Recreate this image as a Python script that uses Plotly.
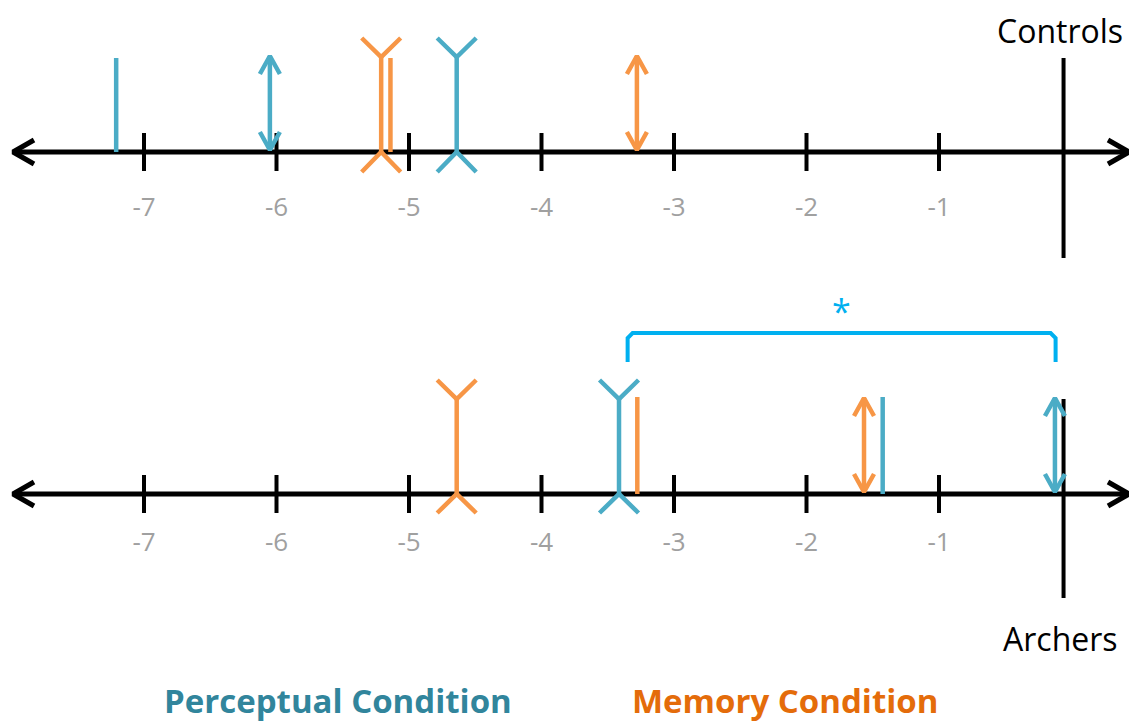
import plotly.graph_objects as go

# ---------------- data ----------------
tick_values = [-7, -6, -5, -4, -3, -2, -1]
tick_labels = ["-7", "-6", "-5", "-4", "-3", "-2", "-1"]
groups = ["Controls", "Archers"]
reference_value = [-0.06, -0.06]          # each group's zero line
perceptual_line = [-7.21, -1.425]
perceptual_arrow = [-6.05, -0.125]
perceptual_fins = [-4.64, -3.415]
memory_line = [-5.14, -3.277]
memory_arrow = [-3.28, -1.566]
memory_fins = [-5.21, -4.64]
bracket_span = [-3.35, -0.12]             # archers: significant difference
significance_label = "*"
condition_labels = ["Perceptual Condition", "Memory Condition"]

# ---------------- layout / style ----------------
W, H = 1137, 722
PAGE_MARGIN = 8       # default body margin of the html page
UNIT = 132.5          # px per unit on the number line
ORIGIN = 1071.5       # px position of value 0
def px(p):            # pixel x -> data x
    return (p - ORIGIN) / UNIT
D = 1.0 / UNIT        # one pixel in data units

TEAL = "#4BACC6"
ORANGE = "#F79646"
BRACKET = "#00B0F0"
PERC_TXT = "#31859C"
MEM_TXT = "#E46C0A"
TICK_TXT = "#A0A0A0"
FONT = "Open Sans"

rows = [
    dict(axis=152, line_top=58, arrow_top=56, arrow_bot=150, fin_joint=57, fin_top=38,
         fin_bot=172, tick_half=19, label_y=209, ref_top=58, ref_bot=258, name_y=30),
    dict(axis=494, line_top=397, arrow_top=398, arrow_bot=492, fin_joint=399, fin_top=380,
         fin_bot=513, tick_half=19, label_y=544, ref_top=399, ref_bot=598, name_y=638),
]

fig = go.Figure()

def add_path(xs, ys, color, width):
    fig.add_trace(go.Scatter(x=xs, y=ys, mode="lines", line=dict(color=color, width=width),
                             hoverinfo="skip", showlegend=False))

def vline(v, r):
    return [v, v, None], [r["line_top"], r["axis"], None]

def darrow(v, r):
    hw, hl = 10 * D, 18
    t, b = r["arrow_top"], r["arrow_bot"]
    xs = [v, v, None,
          v - hw, v, v + hw, None,
          v - hw, v, v + hw, None]
    ys = [t, b, None,
          t + hl, t, t + hl, None,
          b - hl, b, b - hl, None]
    return xs, ys

def fins(v, r):
    hw = 19.5 * D
    j, a = r["fin_joint"], r["axis"]
    xs = [v, v, None,
          v - hw, v, v + hw, None,
          v - hw, v, v + hw, None]
    ys = [j, a, None,
          r["fin_top"], j, r["fin_top"], None,
          r["fin_bot"], a, r["fin_bot"], None]
    return xs, ys

for gi, r in enumerate(rows):
    a = r["axis"]
    # number line with open arrowheads
    left, right = px(13), px(1129)
    ax_x = [left, right, None,
            left + 21 * D, left, left + 21 * D, None,
            right - 21 * D, right, right - 21 * D, None]
    ax_y = [a, a, None, a - 12, a, a + 12, None, a - 12, a, a + 12, None]
    add_path(ax_x, ax_y, "black", 5)
    # ticks
    tx, ty = [], []
    for t in tick_values:
        tx += [t, t, None]
        ty += [a - r["tick_half"], a + r["tick_half"], None]
    add_path(tx, ty, "black", 4)
    # group zero line
    add_path([reference_value[gi], reference_value[gi]], [r["ref_top"], r["ref_bot"]], "black", 4)

    # markers
    for color, lv, av, fv in [(TEAL, perceptual_line[gi], perceptual_arrow[gi], perceptual_fins[gi]),
                              (ORANGE, memory_line[gi], memory_arrow[gi], memory_fins[gi])]:
        x1, y1 = vline(lv, r)
        x2, y2 = darrow(av, r)
        x3, y3 = fins(fv, r)
        add_path(x1, y1, color, 4.5)
        add_path(x2, y2, color, 4.5)
        add_path(x3, y3, color, 4.5)

    # tick labels
    fig.add_trace(go.Scatter(x=tick_values, y=[r["label_y"]] * len(tick_values), mode="text",
                             text=tick_labels, textfont=dict(family=FONT, size=26, color=TICK_TXT),
                             hoverinfo="skip", showlegend=False))
    # group name
    fig.add_annotation(x=px(1060), y=r["name_y"], xref="x", yref="y",
                       text=groups[gi], showarrow=False,
                       font=dict(family=FONT, size=32, color="black"), xanchor="center", yanchor="middle")

# significance bracket (archers row)
bl, br = bracket_span
top, bot, rr = 333, 362, 5
add_path([bl, bl, bl + rr * D, br - rr * D, br, br],
         [bot, top + rr, top, top, top + rr, bot], BRACKET, 4)
fig.add_annotation(x=(bl + br) / 2, y=311, xref="x", yref="y", text=significance_label,
                   showarrow=False, font=dict(family=FONT, size=34, color=BRACKET),
                   xanchor="center", yanchor="middle")

# condition legend texts
fig.add_annotation(x=px(338), y=700, xref="x", yref="y", text=condition_labels[0], showarrow=False,
                   font=dict(family=FONT, size=33, color=PERC_TXT, weight=700),
                   xanchor="center", yanchor="middle")
fig.add_annotation(x=px(785), y=700, xref="x", yref="y", text=condition_labels[1], showarrow=False,
                   font=dict(family=FONT, size=33, color=MEM_TXT, weight=700),
                   xanchor="center", yanchor="middle")

# the page places the figure PAGE_MARGIN px from the top-left corner
fig.update_layout(
    width=W - PAGE_MARGIN, height=H - PAGE_MARGIN, margin=dict(l=0, r=0, t=0, b=0),
    paper_bgcolor="white", plot_bgcolor="white", hovermode=False,
    xaxis=dict(range=[px(PAGE_MARGIN), px(W)], visible=False, fixedrange=True),
    yaxis=dict(range=[H, PAGE_MARGIN], visible=False, fixedrange=True),
)
fig.write_html("out.html", config={"displayModeBar": False})
